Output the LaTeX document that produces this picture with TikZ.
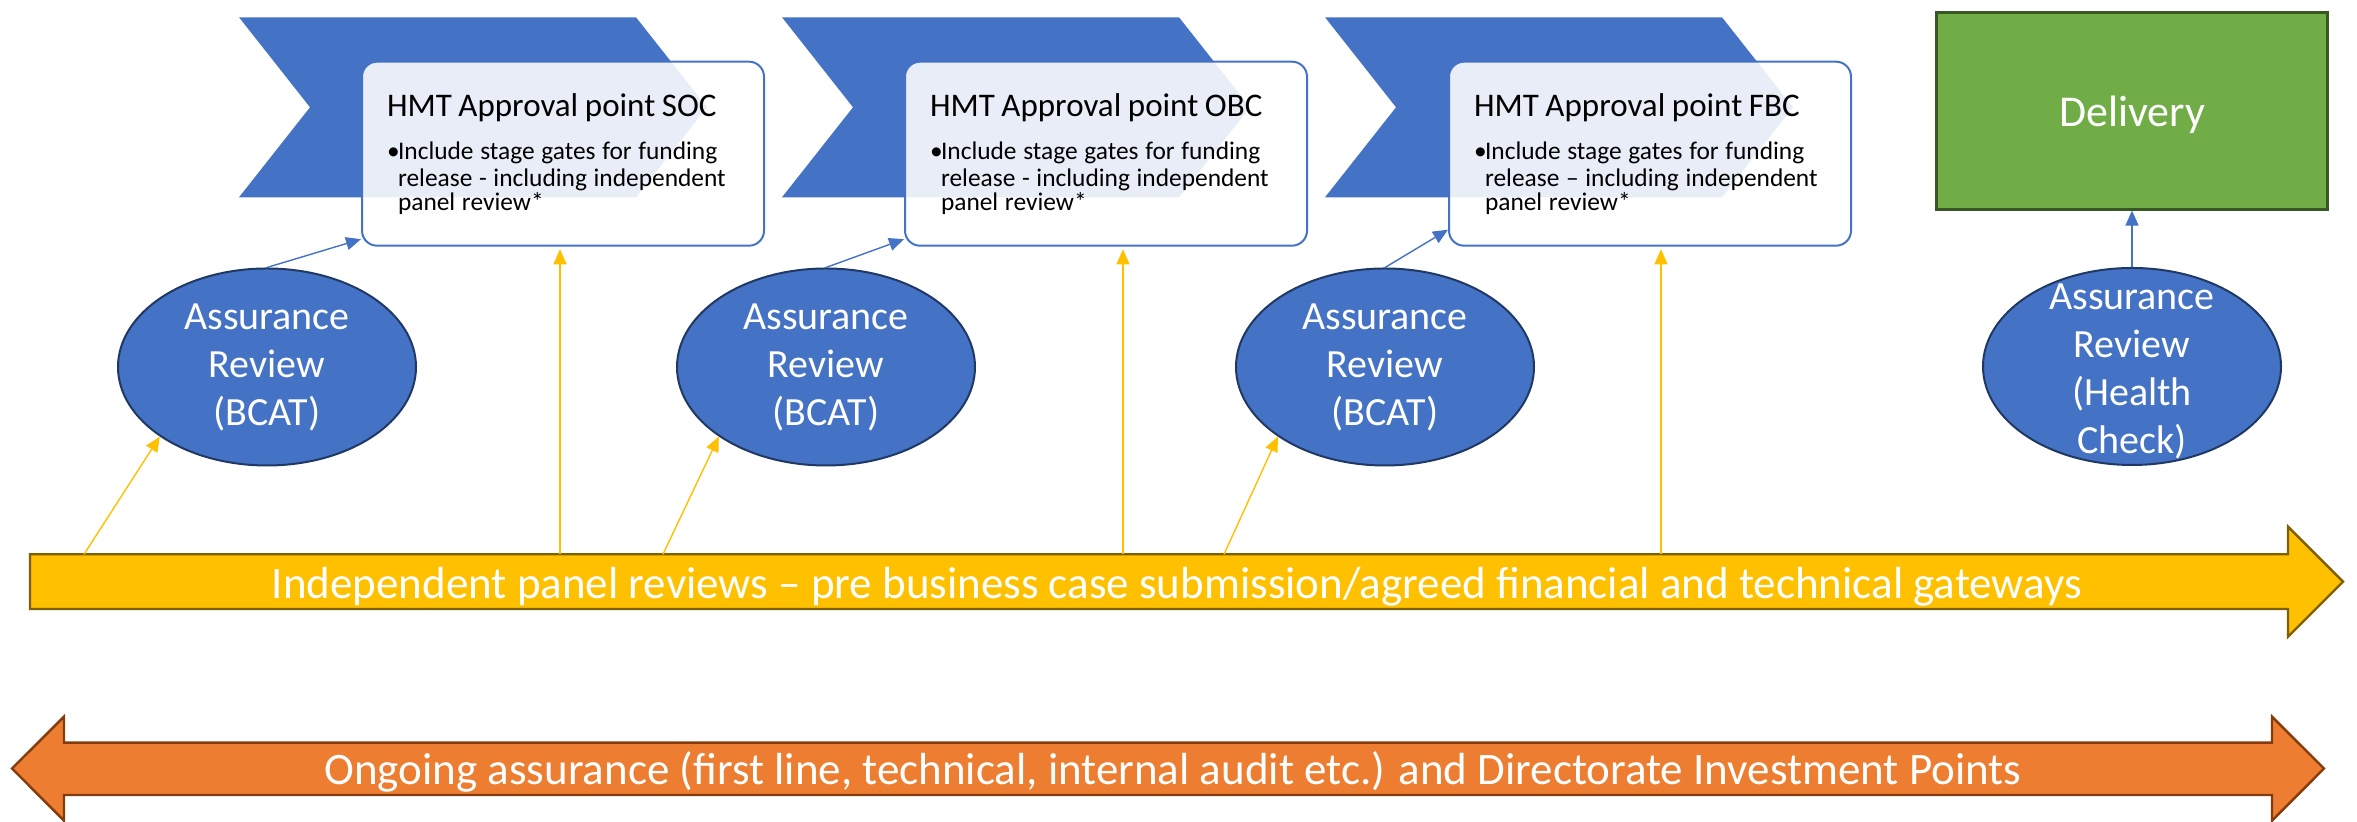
\documentclass[tikz,border=0pt]{standalone}
\usepackage{fontspec}
\setmainfont{Carlito}
\usepackage{xcolor}
\usetikzlibrary{arrows.meta}
\usetikzlibrary{shapes.geometric}
\usetikzlibrary{calc}

\definecolor{accblue}{HTML}{4472C4}
\definecolor{navy}{HTML}{203864}
\definecolor{gold}{HTML}{FFC000}
\definecolor{golddark}{HTML}{7F6000}
\definecolor{orng}{HTML}{ED7D31}
\definecolor{orngdark}{HTML}{843C0C}
\definecolor{grn}{HTML}{70AD47}
\definecolor{grndark}{HTML}{385723}

\tikzset{
  chevron/.style={fill=accblue},
  approval/.style={draw=accblue, line width=1pt, fill=white, fill opacity=0.88, text opacity=1,
    rounded corners=7.5pt, minimum width=201pt, minimum height=92pt, text width=176pt,
    align=left, inner xsep=12.5pt, inner ysep=0pt},
  review/.style={ellipse, draw=navy, line width=1pt, fill=accblue,
    minimum width=149pt, minimum height=98.5pt, inner sep=0pt},
  reviewtext/.style={text=white, align=center, font=\fontsize{20}{24}\selectfont},
  bluearrow/.style={draw=accblue, line width=0.7pt, -{Triangle[length=7.5pt,width=6.5pt]}},
  goldarrow/.style={draw=gold, line width=0.7pt, -{Triangle[length=7.5pt,width=6.5pt]}},
  bartext/.style={text=white, anchor=base, font=\fontsize{22.5}{27}\selectfont}
}

\newcommand{\hmtpoint}[2]{{\fontsize{16.5}{20}\selectfont HMT Approval point #1\par}\vspace{8pt}%
  \fontsize{12.7}{13.5}\selectfont\makebox[5.5pt][l]{•}Include stage gates for funding\\
  \hspace*{5.5pt}release #2 including independent\\
  \hspace*{5.5pt}panel review*}

\begin{document}
\begin{tikzpicture}[x=0.5pt, y=0.5pt]
    \useasboundingbox (0,0) rectangle (2357,822);

    % stage chevrons and approval points
    \foreach \x in {239,782,1325}
    \fill[chevron] (\x,804.7) -- ++(397,0) -- ++(71,-90) -- ++(-71,-90) -- ++(-397,0) -- ++(71,90) -- cycle;

    \foreach \k/\bx/\code/\dash in {1/563/SOC/-,2/1106/OBC/-,3/1650/FBC/–}
    \node[approval] (b\k) at (\bx,668.3) {\hmtpoint{\code}{\dash}};

    \foreach \k/\ex in {1/267,2/826,3/1385}
    \node[review, label={[reviewtext]center:Assurance\\Review\\(BCAT)}] (e\k) at (\ex,455) {};

    \node[draw=grndark, line width=1.3pt, fill=grn, minimum width=195.5pt, minimum height=98.3pt,
      text=white, font=\fontsize{22}{26}\selectfont] (deliv) at (2132,711) {\raisebox{-7.8pt}[0pt][0pt]{Delivery}};
    \node[review, label={[reviewtext, yshift=-2.5pt]center:Assurance\\Review\\(Health\\Check)}] (e4) at (2132,455.5) {};

    % panel review bar
    \filldraw[fill=gold, draw=golddark, line width=1.2pt] (30,267.7) -- (2288,267.7) -- (2288,295.3)
      -- (2343,240.3) -- (2288,185.3) -- (2288,213) -- (30,213) -- cycle;
    \node[bartext] (panel) at (1177,223.7) {Independent panel reviews – pre business case submission/agreed financial and technical gateways};

    % ongoing assurance bar
    \filldraw[fill=orng, draw=orngdark, line width=1.2pt] (12,53.5) -- (64,105.3) -- (64,79.3) -- (2272,79.3)
      -- (2272,105.3) -- (2324,53.5) -- (2272,1.3) -- (2272,27) -- (64,27) -- (64,1.3) -- cycle;
    \node[bartext] (ongoing) at (1173,37.7) {Ongoing assurance (first line, technical, internal audit etc.) and Directorate Investment Points};

    \foreach \k/\dx/\vx in {1/84/560,2/663/1123,3/1224/1661} {
      \coordinate (d\k) at (\dx,267.7);
      \coordinate (v\k) at (\vx,267.7);
    }

    % connectors
    \foreach \k/\dy in {1/7.5,2/7.5,3/17}
    \draw[bluearrow] (e\k.north) -- ($(b\k.south west)+(0,\dy)$);
    \foreach \k in {1,2,3} {
      \draw[goldarrow] (d\k) -- (e\k.213);
      \draw[goldarrow, shorten >=1.3pt] (v\k) -- (v\k |- b\k.south);
    }
    \draw[bluearrow] (e4.north) -- (deliv.south);

\end{tikzpicture}
\end{document}
